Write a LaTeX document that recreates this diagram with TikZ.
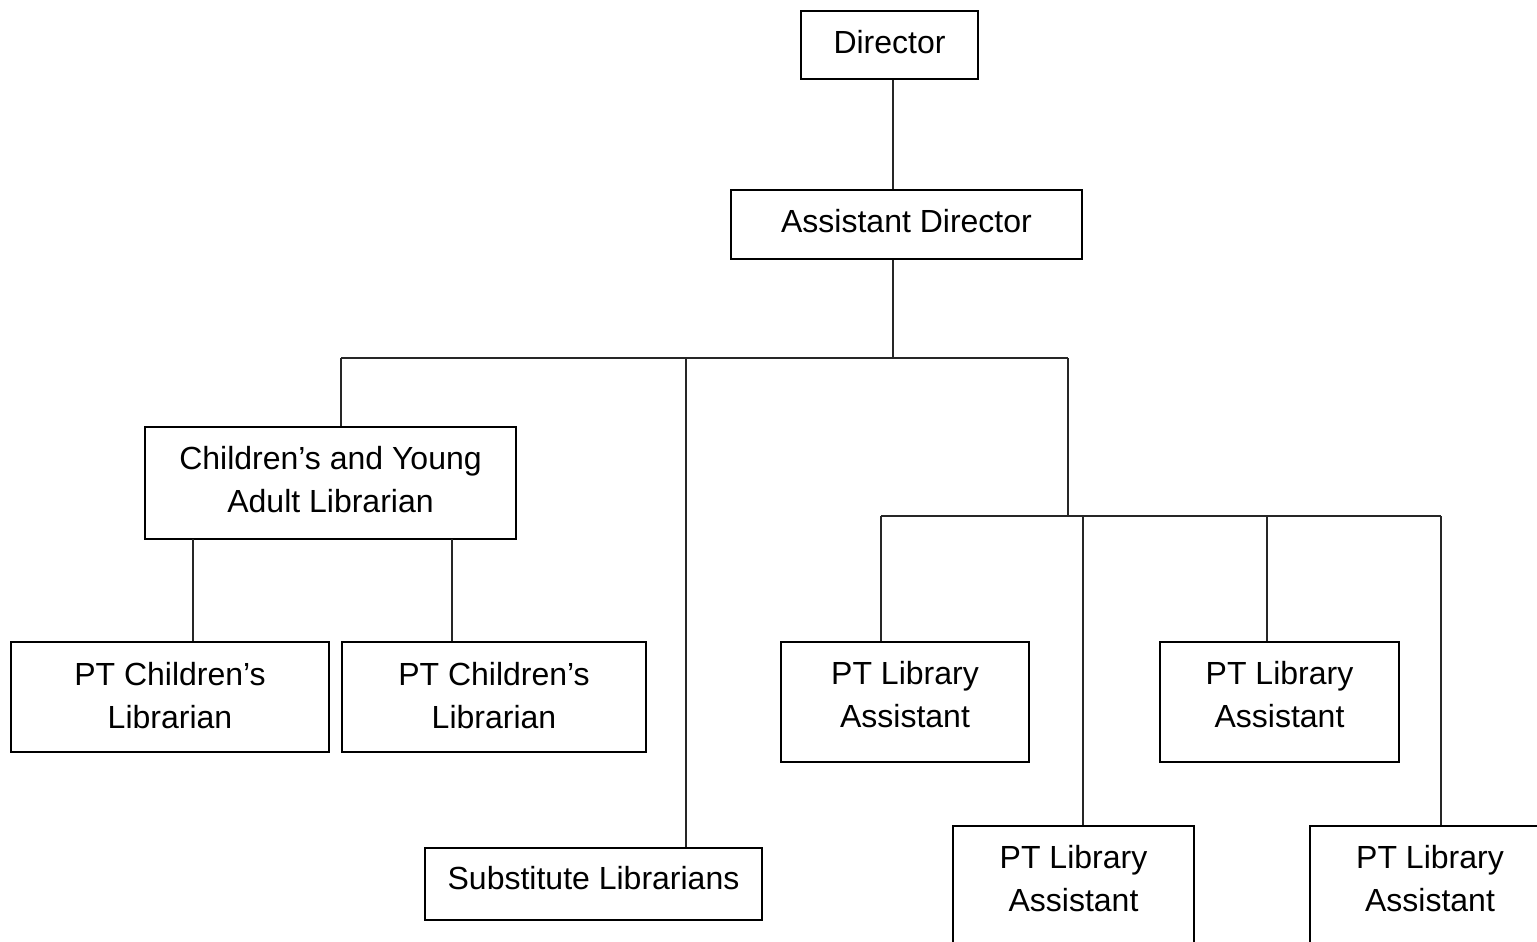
\documentclass[tikz,border=0pt]{standalone}
\usepackage{fontspec}
\setmainfont{Liberation Sans}
\usepackage{tikz}

\begin{document}
\begin{tikzpicture}[x=1pt,y=-1pt,semithick]
  \tikzstyle{orgbox}=[draw=black,line width=1.8pt,rectangle,inner sep=0pt,align=center,
                      font=\fontsize{32}{43}\selectfont,text depth=7pt]
  \tikzstyle{asst}=[orgbox,minimum height=120pt,text depth=15pt]
  \tikzstyle{conn}=[draw=black!85,line width=1.1pt]

  \useasboundingbox (0,0) rectangle (1537,942);

  % top of the chart
  \node[orgbox,minimum width=177pt,minimum height=68pt] (dir) at (889.5,45) {Director};
  \node[orgbox,minimum width=351pt,minimum height=69pt,text depth=8pt] (ad) at (906.5,224.5)
        {Assistant Director};

  % second level
  \node[orgbox,minimum width=371pt,minimum height=112pt,text depth=8pt] (cya) at (330.5,483)
        {Children's and Young\\Adult Librarian};
  \node[orgbox,minimum width=337pt,minimum height=72pt,text depth=12pt] (sub) at (593.5,884)
        {Substitute Librarians};

  % children's staff
  \node[orgbox,minimum width=318pt,minimum height=110pt,text depth=4pt] (pc1) at (170,697)
        {PT Children's\\Librarian};
  \node[orgbox,minimum width=304pt,minimum height=110pt,text depth=4pt] (pc2) at (494,697)
        {PT Children's\\Librarian};

  % library assistants
  \node[asst,minimum width=248pt] (pl1) at (905,702)    {PT Library\\Assistant};
  \node[asst,minimum width=239pt] (pl2) at (1279.5,702) {PT Library\\Assistant};
  \node[asst,minimum width=241pt] (pl3) at (1073.5,886) {PT Library\\Assistant};
  \node[asst,minimum width=240pt] (pl4) at (1430,886)   {PT Library\\Assistant};

  % bus points
  \coordinate (bus)  at (893,358);
  \coordinate (busw) at (341,358);
  \coordinate (buss) at (686,358);
  \coordinate (buse) at (1068,358);
  \coordinate (lab)  at (1068,516);
  \coordinate (laa)  at (881,516);
  \coordinate (lab3) at (1083,516);
  \coordinate (lab2) at (1267,516);
  \coordinate (lae)  at (1441,516);
  \coordinate (ch1)  at (193,539);
  \coordinate (ch2)  at (452,539);

  \draw[conn] (dir.south -| bus) -- (ad.north -| bus);
  \draw[conn] (ad.south -| bus) -- (bus);
  \draw[conn] (busw) -- (buse);
  \draw[conn] (busw) -- (busw |- cya.north);
  \draw[conn] (buss) -- (buss |- sub.north);
  \draw[conn] (buse) -- (lab);
  \draw[conn] (laa) -- (lae);
  \draw[conn] (laa) -- (laa |- pl1.north);
  \draw[conn] (lab3) -- (lab3 |- pl3.north);
  \draw[conn] (lab2) -- (lab2 |- pl2.north);
  \draw[conn] (lae) -- (lae |- pl4.north);
  \draw[conn] (ch1) -- (ch1 |- pc1.north);
  \draw[conn] (ch2) -- (ch2 |- pc2.north);
\end{tikzpicture}
\end{document}
